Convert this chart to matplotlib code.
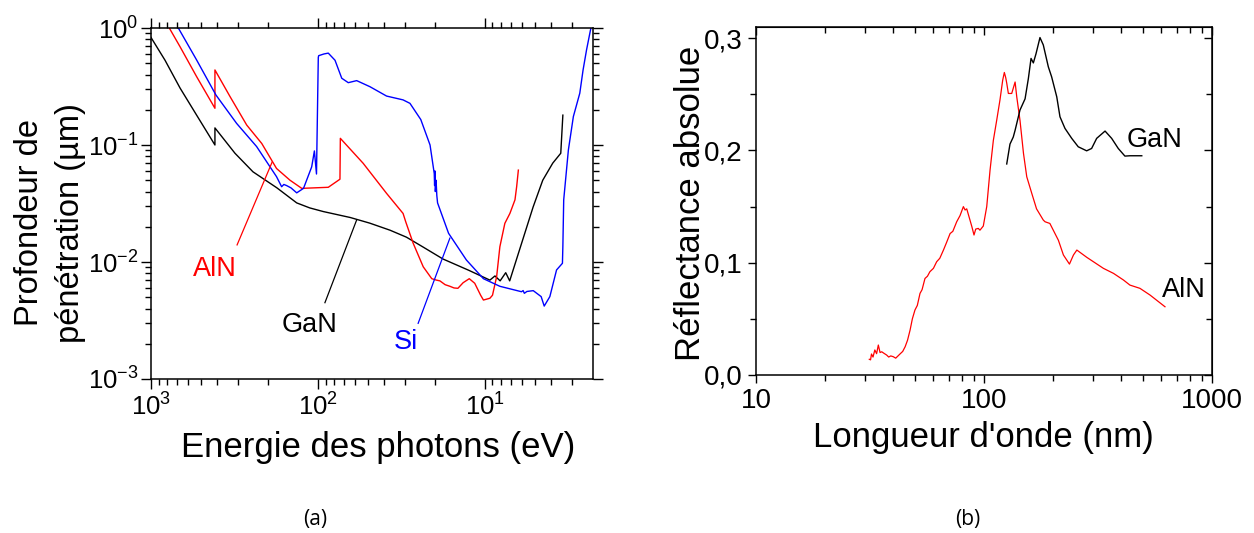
import matplotlib
matplotlib.use("Agg")
import matplotlib.pyplot as plt
import matplotlib.ticker as mticker
import numpy as np

plt.rcParams['font.family'] = ['Liberation Sans', 'DejaVu Sans']
plt.rcParams['mathtext.fontset'] = 'custom'
plt.rcParams['mathtext.rm'] = 'Liberation Sans'
plt.rcParams['mathtext.it'] = 'Liberation Sans'
plt.rcParams['mathtext.default'] = 'rm'

# ---------------- Panel (a): penetration depth vs photon energy ----------------
gan_energy = [1000, 824, 670, 533, 414, 414, 314, 245, 176, 134, 112, 93, 64, 49, 37,
              29.5, 23.4, 17.8, 12.5, 9.33, 8.7, 8.1, 7.5, 7.1, 6.2, 5.14, 4.5, 3.92,
              3.51, 3.41]
gan_depth = [0.83, 0.53, 0.307, 0.18, 0.10, 0.14, 0.085, 0.059, 0.043, 0.032, 0.029,
             0.027, 0.024, 0.0215, 0.0187, 0.0163, 0.0134, 0.0106, 0.0085, 0.0070,
             0.0076, 0.0069, 0.0081, 0.0069, 0.0127, 0.0295, 0.05, 0.070, 0.085, 0.18]

si_energy = [720, 686, 533, 408, 307, 233, 177, 165, 160, 154, 145, 134, 122, 109, 105,
             102, 99.5, 99, 92, 86.7, 79, 72, 65.8, 58.6, 48.8, 38.8, 30.9, 28.1, 24.2,
             21.3, 20.1, 20.0, 19.9, 19.8, 19.6, 19.4, 19.2, 16.5, 12.9, 10.2, 8.13,
             6.03, 5.9, 5.8, 5.6, 5.13, 4.6, 4.41, 4.08, 3.72, 3.43, 3.41, 3.37, 3.16,
             2.95, 2.70, 2.58, 2.46, 2.33, 2.29]
si_depth = [1.2, 1.0, 0.533, 0.267, 0.153, 0.097, 0.0536, 0.044, 0.046, 0.045, 0.043,
            0.039, 0.0426, 0.065, 0.089, 0.0565, 0.56, 0.58, 0.60, 0.61, 0.53, 0.372,
            0.341, 0.355, 0.315, 0.262, 0.243, 0.227, 0.165, 0.10, 0.057, 0.045, 0.060,
            0.040, 0.050, 0.037, 0.032, 0.0176, 0.0104, 0.0072, 0.0062, 0.00557, 0.0057,
            0.0054, 0.0056, 0.00569, 0.00506, 0.0042, 0.00506, 0.00855, 0.00975, 0.0135,
            0.034, 0.0906, 0.175, 0.277, 0.438, 0.649, 0.96, 1.05]

aln_energy = [820, 777, 670, 533, 414, 414, 336, 267, 217, 177, 147, 125, 86.7, 73.8,
              73.4, 53.6, 38.8, 30.9, 29.8, 26.9, 23.4, 20.8, 19.5, 18.6, 17.3, 16.2,
              15.3, 14.5, 13.5, 12.4, 11.5, 10.6, 10.2, 9.33, 9.0, 8.5, 8.13, 7.59,
              7.08, 6.6, 6.45, 6.3]
aln_depth = [1.14, 1.0, 0.692, 0.384, 0.206, 0.438, 0.259, 0.148, 0.103, 0.063, 0.05,
             0.0426, 0.0435, 0.051, 0.114, 0.0698, 0.0386, 0.026, 0.0221, 0.0145,
             0.0091, 0.0072, 0.0070, 0.0069, 0.0064, 0.0062, 0.0060, 0.00596, 0.00665,
             0.0072, 0.00658, 0.0052, 0.00473, 0.0049, 0.0052, 0.0075, 0.0135, 0.0214,
             0.026, 0.034, 0.044, 0.061]

# annotation leader lines (energy, depth) endpoints
aln_leader = ([305, 188], [0.014, 0.0716])
gan_leader = ([90.8, 58.6], [0.00449, 0.0229])
si_leader = ([25.1, 16.2], [0.00299, 0.016])

# ---------------- Panel (b): absolute reflectance vs wavelength ----------------
gan_wl = [125.8, 130, 134.4, 136.9, 143.8, 151.4, 156.5, 160.8, 164.6, 169, 176, 182,
          191.5, 198, 208.5, 215.4, 226.5, 242.5, 259, 282, 296.5, 312, 339.6, 363, 388,
          415, 436.5, 492]
gan_refl = [0.188, 0.2057, 0.212, 0.218, 0.236, 0.246, 0.264, 0.282, 0.278, 0.286,
            0.3006, 0.294, 0.2745, 0.2656, 0.2478, 0.23, 0.2197, 0.2108, 0.2033, 0.1997,
            0.2018, 0.2108, 0.2173, 0.2108, 0.2018, 0.195, 0.1953, 0.1953]

aln_wl = [31.4, 31.8, 32.1, 32.6, 33.2, 33.8, 34.4, 35.0, 35.6, 36.3, 37.4, 38.2, 39.0,
          40, 41, 42.8, 44, 45.1, 46.2, 47.4, 48.5, 49.8, 51, 52.4, 53.5, 55.1, 56.5,
          57.9, 60, 62, 64, 66.4, 68.5, 71, 73, 75.9, 78.5, 81.2, 82.6, 84, 86.8, 88.5,
          90.4, 92, 94.4, 96, 99.3, 102.8, 106.3, 109.9, 113.7, 117.5, 120.8, 122.8,
          124.5, 125.8, 127.9, 132.3, 136.9, 139.2, 143.8, 149, 154, 162, 170, 182,
          185.3, 194.5, 212, 223, 237, 246.8, 255.4, 282.4, 334, 370, 409, 436.5, 483,
          535, 622]
aln_refl = [0.014, 0.0135, 0.0187, 0.016, 0.0223, 0.019, 0.0267, 0.02, 0.0207, 0.0195,
            0.0178, 0.016, 0.017, 0.0163, 0.015, 0.0187, 0.021, 0.0252, 0.031, 0.04,
            0.05, 0.0579, 0.062, 0.0727, 0.076, 0.086, 0.088, 0.092, 0.095, 0.1009,
            0.104, 0.1113, 0.118, 0.126, 0.128, 0.1365, 0.142, 0.15, 0.147, 0.148,
            0.138, 0.132, 0.1247, 0.13, 0.1306, 0.129, 0.1327, 0.15, 0.1825, 0.209,
            0.227, 0.245, 0.2627, 0.2695, 0.265, 0.26, 0.2508, 0.2508, 0.261, 0.2478,
            0.227, 0.1974, 0.1766, 0.1618, 0.148, 0.138, 0.1365, 0.135, 0.12, 0.1069,
            0.0988, 0.1069, 0.1113, 0.1048, 0.095, 0.0905, 0.0846, 0.0801, 0.0772,
            0.0712, 0.0608]

refl_ticks = [0.0, 0.1, 0.2, 0.3]
refl_ticklabels = ['0,0', '0,1', '0,2', '0,3']

RED = '#ff0000'
BLUE = '#0000ff'
BLACK = '#000000'
TICK_FS = 20
TICK_FS_A = 18.5
NAME_FS = 19.5
LABEL_FS = 25

fig = plt.figure(figsize=(12.54, 5.33), dpi=100)
W, H = 1254, 533

def frac_box(x0, y0, x1, y1):
    return [x0 / W, 1 - y1 / H, (x1 - x0) / W, (y1 - y0) / H]

# ---------- (a) ----------
ax1 = fig.add_axes(frac_box(151, 28, 593, 379))
ax1.plot(gan_energy, gan_depth, color=BLACK, lw=1.0)
ax1.plot(aln_energy, aln_depth, color=RED, lw=1.0)
ax1.plot(si_energy, si_depth, color=BLUE, lw=1.0)
ax1.plot(*aln_leader, color=RED, lw=0.9)
ax1.plot(*gan_leader, color=BLACK, lw=0.9)
ax1.plot(*si_leader, color=BLUE, lw=0.9)
ax1.set_xscale('log')
ax1.set_yscale('log')
ax1.set_xlim(1000, 2.25)
ax1.set_ylim(1e-3, 1)
ax1.set_xticks([1000, 100, 10])
ax1.set_yticks([1e-3, 1e-2, 1e-1, 1])
ax1.xaxis.set_major_formatter(mticker.LogFormatterSciNotation())
ax1.yaxis.set_major_formatter(mticker.LogFormatterSciNotation())
ax1.xaxis.set_minor_locator(mticker.LogLocator(base=10, subs=np.arange(2, 10)))
ax1.yaxis.set_minor_locator(mticker.LogLocator(base=10, subs=np.arange(2, 10)))
ax1.xaxis.set_minor_formatter(mticker.NullFormatter())
ax1.yaxis.set_minor_formatter(mticker.NullFormatter())
ax1.tick_params(which='both', direction='out', top=True, right=True,
                labelsize=TICK_FS_A, width=1.0)
ax1.tick_params(which='major', length=7)
ax1.tick_params(which='minor', length=4)
ax1.tick_params(axis='y', which='major', pad=2)
for s in ax1.spines.values():
    s.set_linewidth(1.1)

ax1.text(414, 0.0087, 'AlN', color=RED, fontsize=NAME_FS, ha='center', va='center')
ax1.text(112, 0.0029, 'GaN', color=BLACK, fontsize=NAME_FS, ha='center', va='center')
ax1.text(29.7, 0.00207, 'Si', color=BLUE, fontsize=NAME_FS, ha='center', va='center')

fig.text(378 / W, 1 - 447 / H, 'Energie des photons (eV)', fontsize=LABEL_FS,
         ha='center', va='center')
fig.text(29 / W, 1 - 223 / H, 'Profondeur de', fontsize=23.5,
         ha='center', va='center', rotation=90)
fig.text(71 / W, 1 - 223 / H, 'pénétration (µm)', fontsize=23.5,
         ha='center', va='center', rotation=90)

# ---------- (b) ----------
ax2 = fig.add_axes(frac_box(756, 27, 1212, 375))
ax2.plot(aln_wl, aln_refl, color=RED, lw=0.9)
ax2.plot(gan_wl, gan_refl, color=BLACK, lw=1.0)
ax2.set_xscale('log')
ax2.set_xlim(10, 1000)
ax2.set_ylim(0, 0.31)
ax2.set_xticks([10, 100, 1000])
ax2.xaxis.set_major_formatter(mticker.FixedFormatter(['10', '100', '1000']))
ax2.xaxis.set_minor_locator(mticker.LogLocator(base=10, subs=np.arange(2, 10)))
ax2.xaxis.set_minor_formatter(mticker.NullFormatter())
ax2.set_yticks(refl_ticks)
ax2.set_yticklabels(refl_ticklabels)
ax2.yaxis.set_minor_locator(mticker.MultipleLocator(0.05))
ax2.tick_params(which='both', direction='out', labelsize=TICK_FS, width=1.0)
ax2.tick_params(which='major', length=6)
ax2.tick_params(which='minor', length=4)
for s in ax2.spines.values():
    s.set_linewidth(1.1)

top2 = ax2.secondary_xaxis('top')
top2.xaxis.set_major_locator(mticker.FixedLocator([10, 100, 1000]))
top2.xaxis.set_minor_locator(mticker.LogLocator(base=10, subs=np.arange(2, 10)))
top2.xaxis.set_major_formatter(mticker.NullFormatter())
top2.xaxis.set_minor_formatter(mticker.NullFormatter())
top2.tick_params(which='both', direction='in', width=1.0)
top2.tick_params(which='major', length=6)
top2.tick_params(which='minor', length=4)

right2 = ax2.secondary_yaxis('right')
right2.yaxis.set_major_locator(mticker.FixedLocator(refl_ticks))
right2.yaxis.set_minor_locator(mticker.MultipleLocator(0.05))
right2.yaxis.set_major_formatter(mticker.NullFormatter())
right2.yaxis.set_minor_formatter(mticker.NullFormatter())
right2.tick_params(which='both', direction='in', width=1.0)
right2.tick_params(which='major', length=6)
right2.tick_params(which='minor', length=4)

ax2.text(560, 0.209, 'GaN', color=BLACK, fontsize=NAME_FS, ha='center', va='center')
ax2.text(750, 0.0757, 'AlN', color=BLACK, fontsize=NAME_FS, ha='center', va='center')

fig.text(983 / W, 1 - 437 / H, "Longueur d'onde (nm)", fontsize=LABEL_FS,
         ha='center', va='center')
fig.text(690 / W, 1 - 203 / H, 'Réflectance absolue', fontsize=LABEL_FS,
         ha='center', va='center', rotation=90)

fig.text(315 / W, 1 - 520 / H, '(a)', fontsize=15, ha='center', va='center',
         family=['Open Sans', 'DejaVu Sans'])
fig.text(968 / W, 1 - 520 / H, '(b)', fontsize=15, ha='center', va='center',
         family=['Open Sans', 'DejaVu Sans'])

fig.savefig('out.png', dpi=100)
